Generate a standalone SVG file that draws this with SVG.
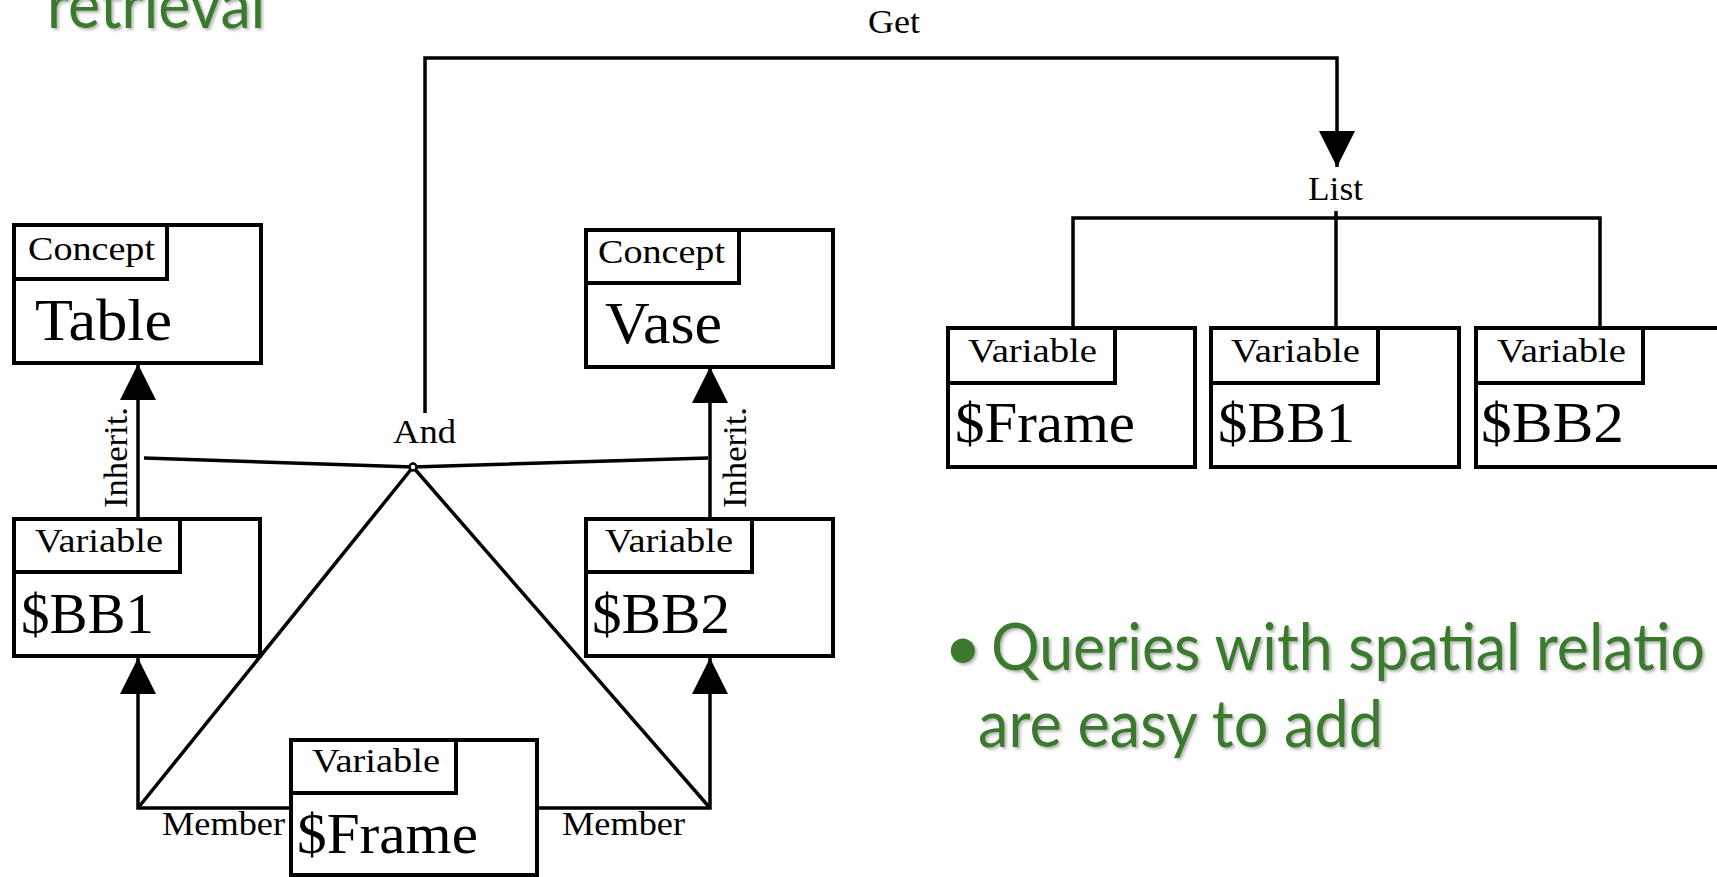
<svg xmlns="http://www.w3.org/2000/svg" width="1717" height="877" viewBox="0 0 1717 877">
<style>
.box{fill:#fff;stroke:#000;stroke-width:4}
.sub{fill:none;stroke:#000;stroke-width:4}
.t{font-family:"Liberation Serif","Times New Roman",serif;fill:#000}
.typ{font-size:34px}
.ref{font-size:57px}
.big{font-size:60px}
.lab{font-size:33px}
.edge{fill:none;stroke:#000;stroke-width:3.5}
.slide{font-family:Lato,"Open Sans",sans-serif;font-size:65px;fill:#3A7A2E;filter:url(#sh)}
</style>
<defs>
<marker id="arr" markerUnits="userSpaceOnUse" markerWidth="36" markerHeight="36" viewBox="0 0 36 36" refX="36" refY="18" orient="auto">
<path d="M0,0 L36,18 L0,36 z" fill="#000"/>
</marker>
<filter id="sh" x="-5%" y="-20%" width="110%" height="140%">
<feDropShadow dx="2" dy="2" stdDeviation="1.5" flood-color="#000" flood-opacity="0.3"/>
</filter>
</defs>

<g id="slide-text">
<text class="slide" x="47" y="28" textLength="218" lengthAdjust="spacingAndGlyphs">retrieval</text>
<text class="slide" x="944" y="670">•</text>
<text class="slide" x="991" y="670" textLength="714" lengthAdjust="spacingAndGlyphs">Queries with spatial relatio</text>
<text class="slide" x="978" y="747" textLength="405" lengthAdjust="spacingAndGlyphs">are easy to add</text>
</g>

<g id="connectors">
<path class="edge" d="M425,413 L425,58 L1337,58 L1337,167" marker-end="url(#arr)"/>
<path class="edge" d="M138,517 L138,364" marker-end="url(#arr)"/>
<path class="edge" d="M710,517 L710,367" marker-end="url(#arr)"/>
<path class="edge" d="M290,808 L138,808 L138,658" marker-end="url(#arr)"/>
<path class="edge" d="M538,808 L710,808 L710,658" marker-end="url(#arr)"/>
<path class="edge" d="M413,467 L138,808"/>
<path class="edge" d="M413,467 L710,808"/>
<path class="edge" d="M144,458 L413,467 L708,458"/>
<path class="edge" d="M1073,328 L1073,218 L1600,218 L1600,328"/>
<path class="edge" d="M1336,211 L1336,328"/>
<text class="t lab" x="868" y="33" textLength="52" lengthAdjust="spacingAndGlyphs">Get</text>
<text class="t lab" transform="translate(127,508) rotate(-90)" textLength="101" lengthAdjust="spacingAndGlyphs">Inherit.</text>
<text class="t lab" transform="translate(746,508) rotate(-90)" textLength="101" lengthAdjust="spacingAndGlyphs">Inherit.</text>
<text class="t lab" x="162" y="835" textLength="123" lengthAdjust="spacingAndGlyphs">Member</text>
<text class="t lab" x="562" y="835" textLength="123" lengthAdjust="spacingAndGlyphs">Member</text>
</g>

<g id="and-node">
<text class="t lab" x="393" y="443" textLength="63" lengthAdjust="spacingAndGlyphs">And</text>
<circle cx="413" cy="467" r="3.5" fill="#fff" stroke="#000" stroke-width="2.5"/>
</g>

<g id="list-node">
<text class="t lab" x="1308" y="200" textLength="55" lengthAdjust="spacingAndGlyphs">List</text>
</g>

<g id="concept-table">
<rect class="box" x="14" y="225" width="247" height="138"/>
<rect class="sub" x="14" y="225" width="153" height="54"/>
<text class="t typ" x="28" y="260" textLength="127" lengthAdjust="spacingAndGlyphs">Concept</text>
<text class="t big" x="35" y="340" textLength="137" lengthAdjust="spacingAndGlyphs">Table</text>
</g>

<g id="concept-vase">
<rect class="box" x="586" y="230" width="247" height="137"/>
<rect class="sub" x="586" y="230" width="153" height="53"/>
<text class="t typ" x="598" y="263" textLength="127" lengthAdjust="spacingAndGlyphs">Concept</text>
<text class="t big" x="605" y="343" textLength="117" lengthAdjust="spacingAndGlyphs">Vase</text>
</g>

<g id="var-bb1">
<rect class="box" x="14" y="519" width="246" height="137"/>
<rect class="sub" x="14" y="519" width="166" height="53"/>
<text class="t typ" x="35" y="552" textLength="128" lengthAdjust="spacingAndGlyphs">Variable</text>
<text class="t ref" x="21" y="633" textLength="133" lengthAdjust="spacingAndGlyphs">$BB1</text>
</g>

<g id="var-bb2">
<rect class="box" x="586" y="519" width="247" height="137"/>
<rect class="sub" x="586" y="519" width="166" height="53"/>
<text class="t typ" x="605" y="552" textLength="128" lengthAdjust="spacingAndGlyphs">Variable</text>
<text class="t ref" x="592" y="633" textLength="138" lengthAdjust="spacingAndGlyphs">$BB2</text>
</g>

<g id="var-frame">
<rect class="box" x="291" y="740" width="246" height="135"/>
<rect class="sub" x="291" y="740" width="165" height="53"/>
<text class="t typ" x="312" y="772" textLength="128" lengthAdjust="spacingAndGlyphs">Variable</text>
<text class="t ref" x="297" y="853" textLength="181" lengthAdjust="spacingAndGlyphs">$Frame</text>
</g>

<g id="list-frame">
<rect class="box" x="948" y="328" width="247" height="139"/>
<rect class="sub" x="948" y="328" width="167" height="55"/>
<text class="t typ" x="968" y="362" textLength="129" lengthAdjust="spacingAndGlyphs">Variable</text>
<text class="t ref" x="955" y="442" textLength="180" lengthAdjust="spacingAndGlyphs">$Frame</text>
</g>

<g id="list-bb1">
<rect class="box" x="1211" y="328" width="248" height="139"/>
<rect class="sub" x="1211" y="328" width="167" height="55"/>
<text class="t typ" x="1231" y="362" textLength="129" lengthAdjust="spacingAndGlyphs">Variable</text>
<text class="t ref" x="1218" y="442" textLength="137" lengthAdjust="spacingAndGlyphs">$BB1</text>
</g>

<g id="list-bb2">
<rect class="box" x="1476" y="328" width="260" height="139"/>
<rect class="sub" x="1476" y="328" width="167" height="55"/>
<text class="t typ" x="1497" y="362" textLength="129" lengthAdjust="spacingAndGlyphs">Variable</text>
<text class="t ref" x="1481" y="442" textLength="143" lengthAdjust="spacingAndGlyphs">$BB2</text>
</g>
</svg>
